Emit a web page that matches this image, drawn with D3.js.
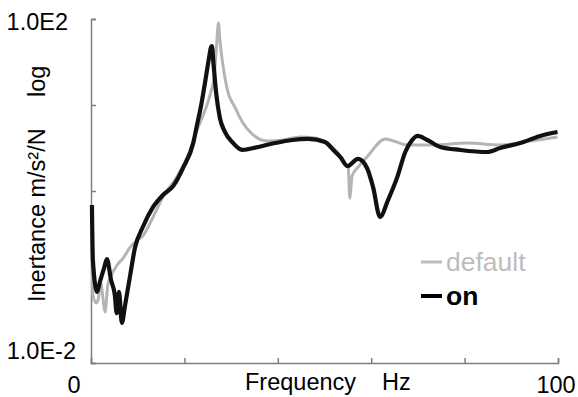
<!DOCTYPE html>
<html>
<head>
<meta charset="utf-8">
<script src="https://cdn.jsdelivr.net/npm/d3@7"></script>
<style>
  html, body { margin: 0; padding: 0; background: #fff; }
  svg { display: block; font-family: "Liberation Sans", Arial, sans-serif; }
</style>
</head>
<body>
<svg id="chart" width="578" height="397"></svg>
<script>
// ---- data ----
const seriesNames = ["default", "on"];
const defaultFreq = [0.2,0.4,1.1,1.5,2.1,2.6,3.0,3.6,4.3,5.6,6.9,8.4,9.9,11.1,13.3,15.4,18.4,20.6,22.7,24.2,25.5,26.4,26.9,27.3,27.6,28.1,29.1,30.9,32.4,34.3,37.7,41.1,44.8,48.0,50.6,52.7,54.4,55.1,55.4,55.9,57.2,59.1,63.0,67.7,73.3,80.6,87.6,94.1,99.9];
const defaultVal = [0.352,0.0618,0.0499,0.054,0.085,0.054,0.0392,0.0807,0.1028,0.138,0.166,0.223,0.269,0.300,0.499,0.851,1.46,2.48,5.12,8.07,13.1,22.3,49.9,89.8,57.0,33.3,15.8,9.23,6.34,4.72,3.81,3.92,4.25,4.13,3.61,2.84,2.12,1.85,0.83,1.49,1.90,2.48,4.03,3.43,3.43,3.61,3.43,3.81,4.25];
const onFreq = [0.2,0.4,1.3,1.9,2.8,3.4,4.3,5.1,5.5,6.0,6.6,7.3,8.4,9.4,11.1,13.3,15.4,17.6,19.7,21.9,22.7,23.6,24.4,25.3,25.7,25.9,26.2,26.8,27.6,28.7,30.2,32.4,35.8,39.4,43.1,46.5,50.1,51.9,53.4,54.9,57.2,59.1,60.4,61.9,63.6,65.6,67.3,68.8,69.9,72.0,74.8,79.1,84.9,87.6,91.9,96.2,99.9];
const onVal = [0.687,0.158,0.067,0.0875,0.127,0.162,0.092,0.0618,0.038,0.067,0.0292,0.0472,0.1055,0.217,0.381,0.652,0.898,1.143,1.85,3.61,5.85,10,18.0,36.1,47.2,48.5,31.6,13.8,7.06,4.85,3.72,3.00,3.25,3.61,3.92,4.03,3.72,3.00,2.48,1.95,2.36,1.85,1.11,0.499,0.785,1.46,2.84,3.92,4.37,3.92,3.25,3.00,2.84,3.16,3.61,4.37,4.85];
const xTicks = [0,20,40,60,80,100];
const yTicks = [0.01,0.1,1,10,100];
const xTickLabels = ["0","100"];
const yTickLabels = ["1.0E-2","1.0E2"];
const yTitle = "Inertance m/s²/N";
const yTitleExtra = "log";
const xTitle = "Frequency";
const xTitleUnit = "Hz";

// ---- layout ----
const svg = d3.select("#chart");
const mLeft = 91, mRight = 558, mTop = 19, mBottom = 363;
const x = d3.scaleLinear().domain([0,100]).range([mLeft, mRight]);
const y = d3.scaleLog().domain([0.01,100]).range([mBottom, mTop]);
const axisColor = "#7f7f7f";
const fs = 23.5;

// axes
const xAxis = svg.append("g").attr("transform", `translate(0,${mBottom})`)
  .call(d3.axisBottom(x).tickValues(xTicks).tickSize(-5).tickFormat(""));
const yAxis = svg.append("g").attr("transform", `translate(${mLeft},0)`)
  .call(d3.axisLeft(y).tickValues(yTicks).tickSize(-5).tickFormat(""));
[xAxis, yAxis].forEach(g => {
  g.select(".domain").attr("stroke", axisColor).attr("stroke-width", 1.5);
  g.selectAll(".tick line").attr("stroke", axisColor).attr("stroke-width", 1.5);
});

// lines
const line = d3.line().x(d => x(d[0])).y(d => y(d[1])).curve(d3.curveMonotoneX);
svg.append("path").datum(defaultFreq.map((f,i)=>[f, defaultVal[i]]))
  .attr("d", line).attr("fill","none").attr("stroke","#b4b4b4").attr("stroke-width",3)
  .attr("stroke-linejoin","round");
svg.append("path").datum(onFreq.map((f,i)=>[f, onVal[i]]))
  .attr("d", line).attr("fill","none").attr("stroke","#111").attr("stroke-width",4.2)
  .attr("stroke-linejoin","round");

// tick labels
svg.append("text").attr("x", x(0) - 17).attr("y", 393).attr("text-anchor","middle")
  .attr("font-size", fs).attr("fill","#000").text(xTickLabels[0]);
svg.append("text").attr("x", x(100) - 2).attr("y", 393).attr("text-anchor","middle")
  .attr("font-size", fs).attr("fill","#000").text(xTickLabels[1]);
svg.append("text").attr("x", 68).attr("y", y(100) + 11).attr("text-anchor","end")
  .attr("font-size", fs).attr("fill","#000").text(yTickLabels[1]);
svg.append("text").attr("x", 76).attr("y", y(0.01) - 4).attr("text-anchor","end")
  .attr("font-size", fs).attr("fill","#000").text(yTickLabels[0]);

// axis titles
svg.append("text").attr("x", 245).attr("y", 390).attr("font-size", fs).attr("fill","#000").text(xTitle);
svg.append("text").attr("x", 382).attr("y", 390).attr("font-size", fs).attr("fill","#000").text(xTitleUnit);
svg.append("text").attr("transform", "translate(45,302) rotate(-90)")
  .attr("font-size", fs).attr("fill","#000").text(yTitle);
svg.append("text").attr("transform", "translate(45,97) rotate(-90)")
  .attr("font-size", fs).attr("fill","#000").text(yTitleExtra);

// legend
const legend = [
  {name: seriesNames[0], color: "#bdbdbd", w: 3, y: 262, weight: "normal"},
  {name: seriesNames[1], color: "#000", w: 4, y: 296, weight: "bold"}
];
legend.forEach(l => {
  svg.append("line").attr("x1", 421).attr("x2", 442).attr("y1", l.y).attr("y2", l.y)
    .attr("stroke", l.color).attr("stroke-width", l.w);
  svg.append("text").attr("x", 446).attr("y", l.y + 9).attr("font-size", 26.5)
    .attr("font-weight", l.weight).attr("fill", l.color).text(l.name);
});
</script>
</body>
</html>
